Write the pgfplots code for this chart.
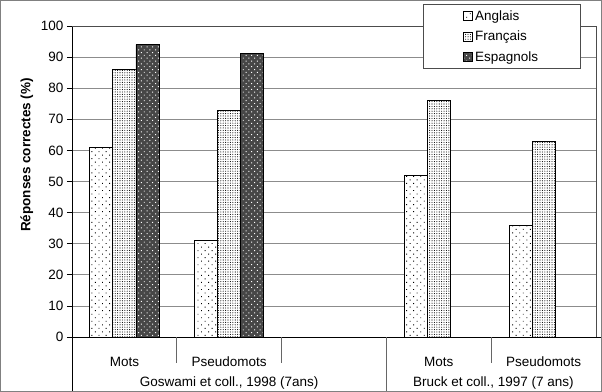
\documentclass[border=0pt]{standalone}
\usepackage{fontspec}
\setmainfont{Liberation Sans}
\usepackage{pgfplots}
\pgfplotsset{compat=1.18}
\usetikzlibrary{patterns.meta}
\begin{document}
\begin{tikzpicture}[font=\fontsize{13.5bp}{16bp}\selectfont]
\useasboundingbox (-72bp,-55bp) rectangle (530bp,337bp);
\begin{axis}[
  scale only axis, width=524bp, height=311bp, clip=false,
  font=\fontsize{13.5bp}{16bp}\selectfont,
  xmin=-0.5, xmax=4.5, ymin=0, ymax=100,
  ybar=0pt, bar width=0.22,
  xtick={0,1,3,4}, xticklabels={Mots,Pseudomots,Mots,Pseudomots},
  ytick={0,10,...,100},
  /pgf/number format/assume math mode=true,
  ymajorgrids, grid style={black!45, line width=0.8bp},
  axis lines*=left, axis line style={black, line width=0.9bp},
  tick align=outside, major tick length=5bp,
  y tick style={black, line width=0.8bp},
  x tick style={draw=none},
  x tick label style={anchor=base, yshift=-24.7bp},
  ylabel={\bfseries Réponses correctes (\%)},
  ylabel style={at={(axis description cs:-0.086,0.585)}, anchor=center},
  legend cell align=left,
  legend style={at={(0.6698,0.862)}, anchor=south west, draw=black!70, line width=0.8bp,
    inner xsep=40bp, inner ysep=4bp, row sep=5bp, fill=white},
  legend image code/.code={\draw[#1] (15bp,-4.5bp) rectangle (24bp,4.5bp);},
]
\addplot[draw=black, line width=0.8bp, fill=white,
  postaction={pattern={Dots[distance=5bp,radius=0.65bp,angle=45]}}]
  coordinates {(0,61) (1,31) (3,52) (4,36)};
\addplot[draw=black, line width=0.8bp, fill=white,
  postaction={pattern={Dots[distance=2.4bp,radius=0.55bp]}}]
  coordinates {(0,86) (1,73) (3,76) (4,63)};
\addplot[draw=black, line width=0.8bp, fill=black!72,
  postaction={pattern={Dots[distance=4bp,radius=0.7bp,angle=45]}, pattern color=white}]
  coordinates {(0,94) (1,91.2)};
\legend{Anglais,Français,Espagnols}
\draw[black!70, line width=0.8bp] (rel axis cs:0,1) -- (rel axis cs:1,1) -- (rel axis cs:1,0);
\draw[black, line width=0.9bp] (rel axis cs:1,0) -- ++(6bp,0bp);
\draw[black, line width=0.9bp] (axis cs:-0.5,0) -- ++(0bp,-55bp);
\draw[black!60, line width=0.8bp] (axis cs:2.5,0) -- ++(0bp,-55bp);
\draw[black!60, line width=0.8bp] (axis cs:0.5,0) -- ++(0bp,-26bp);
\draw[black!60, line width=0.8bp] (axis cs:1.5,0) -- ++(0bp,-26bp);
\draw[black!60, line width=0.8bp] (axis cs:3.5,0) -- ++(0bp,-26bp);
\path (axis cs:1,0) ++(0bp,-49.8bp) node[anchor=base] {Goswami et coll., 1998 (7ans)};
\path (axis cs:3.52,0) ++(0bp,-49.8bp) node[anchor=base] {Bruck et coll., 1997 (7 ans)};
\end{axis}
\draw[black!50, line width=0.8bp] (-71.6bp,-54.6bp) rectangle (529.6bp,336.6bp);
\end{tikzpicture}
\end{document}
